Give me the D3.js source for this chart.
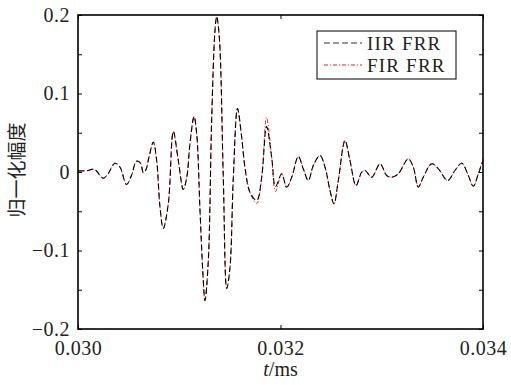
<!DOCTYPE html>
<html>
<head>
<meta charset="utf-8">
<script src="https://cdn.jsdelivr.net/npm/d3@7"></script>
<style>
  body { margin: 0; background: #fff; }
  svg { display: block; }
  text { font-family: "Liberation Serif", "DejaVu Serif", serif; fill: #222; }
</style>
</head>
<body>
<svg width="511" height="385"></svg>
<script>
// temps (ms)
const time = [
  0.030000, 0.030099, 0.030148, 0.030188, 0.030217, 0.030252, 0.030296, 0.030365,
  0.030415, 0.030479, 0.030528, 0.030578, 0.030617, 0.030645, 0.030672, 0.030701,
  0.030744, 0.030777, 0.030810, 0.030842, 0.030892, 0.030941, 0.030991, 0.031040,
  0.031074, 0.031106, 0.031146, 0.031172, 0.031205, 0.031232, 0.031254, 0.031287,
  0.031320, 0.031353, 0.031370, 0.031396, 0.031435, 0.031469, 0.031501, 0.031534,
  0.031575, 0.031617, 0.031649, 0.031699, 0.031765, 0.031814, 0.031862, 0.031913,
  0.031951, 0.032012, 0.032061, 0.032111, 0.032176, 0.032225, 0.032275, 0.032324,
  0.032390, 0.032440, 0.032489, 0.032528, 0.032571, 0.032637, 0.032686, 0.032746,
  0.032802, 0.032835, 0.032901, 0.032983, 0.033049, 0.033098, 0.033163, 0.033262,
  0.033312, 0.033361, 0.033410, 0.033493, 0.033559, 0.033651, 0.033723, 0.033790,
  0.033855, 0.033904, 0.033954, 0.034000
];

// amplitude normalisee, IIR FRR
const iir = [
  0.0013, 0.0019, 0.0036, 0.0006, -0.0045, -0.0079, -0.0025, 0.0112,
  0.0061, -0.0159, -0.0045, 0.0138, 0.0112, -0.0010, 0.0032, 0.0189,
  0.0380, 0.0146, -0.0448, -0.0720, -0.0401, 0.0516, 0.0146, -0.0223,
  -0.0070, 0.0363, 0.0707, 0.0490, -0.0490, -0.1255, -0.1637, -0.1127,
  0.0656, 0.1803, 0.1981, 0.1713, -0.0070, -0.1484, -0.1217, -0.0070,
  0.0809, 0.0439, 0.0057, -0.0261, -0.0363, -0.0070, 0.0580, 0.0185,
  -0.0185, -0.0023, -0.0194, -0.0066, 0.0197, 0.0041, -0.0108, 0.0083,
  0.0210, 0.0061, -0.0236, -0.0405, -0.0108, 0.0401, 0.0146, -0.0172,
  -0.0003, 0.0019, -0.0066, 0.0104, -0.0045, -0.0066, -0.0023, 0.0168,
  0.0061, -0.0194, -0.0066, 0.0104, 0.0041, -0.0108, 0.0019, 0.0112,
  -0.0045, -0.0181, -0.0023, 0.0146
];

// amplitude normalisee, FIR FRR
const fir = [
  0.0013, 0.0019, 0.0036, 0.0006, -0.0045, -0.0079, -0.0025, 0.0112,
  0.0061, -0.0159, -0.0045, 0.0138, 0.0112, -0.0010, 0.0032, 0.0189,
  0.0380, 0.0146, -0.0448, -0.0720, -0.0401, 0.0516, 0.0146, -0.0223,
  -0.0070, 0.0363, 0.0707, 0.0490, -0.0490, -0.1255, -0.1637, -0.1127,
  0.0656, 0.1803, 0.1981, 0.1713, -0.0070, -0.1484, -0.1217, -0.0070,
  0.0809, 0.0439, 0.0057, -0.0261, -0.0401, -0.0070, 0.0694, 0.0185,
  -0.0248, -0.0023, -0.0194, -0.0066, 0.0197, 0.0041, -0.0108, 0.0083,
  0.0210, 0.0061, -0.0236, -0.0405, -0.0108, 0.0401, 0.0146, -0.0172,
  -0.0003, 0.0019, -0.0066, 0.0104, -0.0045, -0.0066, -0.0023, 0.0168,
  0.0061, -0.0194, -0.0066, 0.0104, 0.0041, -0.0108, 0.0019, 0.0112,
  -0.0045, -0.0181, -0.0023, 0.0180
];

const seriesNames = ["IIR FRR", "FIR FRR"];
const xTicks = [0.030, 0.032, 0.034];
const xTickLabels = ["0.030", "0.032", "0.034"];
const yTicks = [-0.2, -0.15, -0.1, -0.05, 0, 0.05, 0.1, 0.15, 0.2];
const yTickLabels = { "-0.2": "\u22120.2", "-0.1": "\u22120.1", "0": "0", "0.1": "0.1", "0.2": "0.2" };

/* dimensions */
const margin = { top: 15, right: 28, bottom: 56, left: 78 };
const width = 511 - margin.left - margin.right;
const height = 385 - margin.top - margin.bottom;

const x = d3.scaleLinear().domain([0.030, 0.034]).range([0, width]);
const y = d3.scaleLinear().domain([-0.2, 0.2]).range([height, 0]);

const svg = d3.select("svg");
const chart = svg.append("g")
  .attr("transform", "translate(" + margin.left + "," + margin.top + ")");

chart.append("clipPath").attr("id", "clip")
  .append("rect").attr("width", width).attr("height", height);

const line = (vals) => d3.line()
  .x((d, i) => x(time[i]))
  .y((d) => y(d))
  .curve(d3.curveCatmullRom.alpha(0.5))(vals);

// FIR en dessous, IIR par dessus
const plot = chart.append("g").attr("clip-path", "url(#clip)");
plot.append("path")
  .attr("d", line(fir))
  .attr("fill", "none")
  .attr("stroke", "#e5202e")
  .attr("stroke-width", 1)
  .attr("stroke-dasharray", "4,2,1,2");
plot.append("path")
  .attr("d", line(iir))
  .attr("fill", "none")
  .attr("stroke", "#000")
  .attr("stroke-width", 1.1)
  .attr("stroke-dasharray", "6,3");

/* axes (ticks vers l'interieur) */
const tick = 4;
const fmtY = (d) => yTickLabels[String(+d.toFixed(2))] || "";

const yl = d3.axisLeft(y).tickValues(yTicks).tickSizeInner(-tick).tickSizeOuter(0).tickPadding(8).tickFormat(fmtY);
const yr = d3.axisRight(y).tickValues(yTicks).tickSizeInner(-tick).tickSizeOuter(0).tickFormat("");
const xb = d3.axisBottom(x).tickValues(xTicks).tickSizeInner(-tick).tickSizeOuter(0).tickPadding(12)
  .tickFormat((d, i) => xTickLabels[i]);
const xt = d3.axisTop(x).tickValues(xTicks).tickSizeInner(-tick).tickSizeOuter(0).tickFormat("");

chart.append("g").attr("class", "axis").call(yl);
chart.append("g").attr("class", "axis").attr("transform", "translate(" + width + ",0)").call(yr);
chart.append("g").attr("class", "axis").attr("transform", "translate(0," + height + ")").call(xb);
chart.append("g").attr("class", "axis").call(xt);

chart.selectAll(".axis .domain").remove();
chart.selectAll(".axis line").attr("stroke", "#000").attr("stroke-width", 1);
chart.selectAll(".axis text")
  .style("font-family", "'Liberation Serif', serif")
  .style("font-size", "20px")
  .style("letter-spacing", "0.5px")
  .attr("fill", "#222");

chart.append("rect")
  .attr("width", width).attr("height", height)
  .attr("fill", "none").attr("stroke", "#000").attr("stroke-width", 1.6);

/* titres des axes */
const xlab = svg.append("text")
  .attr("x", margin.left + width / 2)
  .attr("y", 376)
  .attr("text-anchor", "middle")
  .style("font-size", "20px");
xlab.append("tspan").attr("font-style", "italic").text("t");
xlab.append("tspan").text("/ms");

svg.append("text")
  .attr("transform", "translate(24," + (margin.top + height / 2 - 2) + ") rotate(-90)")
  .attr("text-anchor", "middle")
  .style("font-family", "'Noto Sans CJK SC', sans-serif")
  .style("font-size", "19px")
  .text("归一化幅度");

/* legende */
const lg = svg.append("g").attr("transform", "translate(317,31)");
lg.append("rect").attr("width", 139).attr("height", 48)
  .attr("fill", "#fff").attr("stroke", "#000").attr("stroke-width", 1);
const styles = [
  { color: "#333", dash: "6,3", w: 1.2 },
  { color: "#e5202e", dash: "4,2,1,2", w: 1 }
];
seriesNames.forEach((name, i) => {
  const yy = 12 + i * 22;
  lg.append("line")
    .attr("x1", 7).attr("x2", 45).attr("y1", yy).attr("y2", yy)
    .attr("stroke", styles[i].color).attr("stroke-width", styles[i].w)
    .attr("stroke-dasharray", styles[i].dash);
  lg.append("text")
    .attr("x", 50).attr("y", yy + 6.5)
    .style("font-size", "19px")
    .style("letter-spacing", "1.2px")
    .text(name);
});
</script>
</body>
</html>
